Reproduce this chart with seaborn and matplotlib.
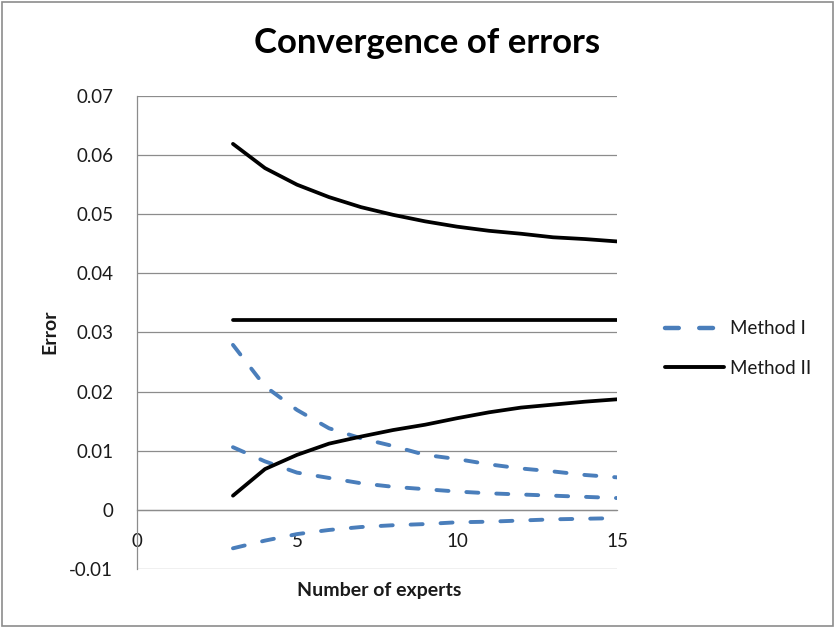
import matplotlib
matplotlib.use("Agg")
import matplotlib.pyplot as plt
import matplotlib.colors as mcolors
import seaborn as sns
import pandas as pd
from matplotlib.lines import Line2D
from matplotlib.patches import Rectangle

# Number of experts
experts = list(range(3, 16))

# Method I: three dashed curves
m1_upper = [0.0279, 0.0209, 0.0169, 0.0138, 0.0121, 0.0108, 0.0093, 0.0086,
            0.0077, 0.0070, 0.0065, 0.0059, 0.0055]
m1_middle = [0.0106, 0.0082, 0.0063, 0.0054, 0.0045, 0.0039, 0.0035, 0.0031,
             0.0028, 0.0026, 0.0024, 0.0022, 0.0020]
m1_lower = [-0.0065, -0.0052, -0.0041, -0.0034, -0.0029, -0.0026, -0.0024,
            -0.0021, -0.0020, -0.0018, -0.0016, -0.0015, -0.0014]

# Method II: three solid curves
m2_upper = [0.0619, 0.0578, 0.0550, 0.0529, 0.0512, 0.0499, 0.0488, 0.0479,
            0.0472, 0.0467, 0.0461, 0.0458, 0.0454]
m2_middle = [0.0321] * 13
m2_lower = [0.0024, 0.0069, 0.0093, 0.0112, 0.0124, 0.0135, 0.0144, 0.0155,
            0.0165, 0.0173, 0.0178, 0.0183, 0.0187]

methods = ["Method I", "Method II"]
x_ticks = [0, 5, 10, 15]
y_ticks = [-0.01, 0, 0.01, 0.02, 0.03, 0.04, 0.05, 0.06, 0.07]
y_tick_labels = ["-0.01", "0", "0.01", "0.02", "0.03", "0.04", "0.05", "0.06", "0.07"]

rows = []
for method, curves in ((methods[0], [m1_upper, m1_middle, m1_lower]),
                       (methods[1], [m2_upper, m2_middle, m2_lower])):
    for k, vals in enumerate(curves):
        for x, v in zip(experts, vals):
            rows.append({"experts": x, "error": v, "method": method,
                         "curve": f"{method}-{k}"})
df = pd.DataFrame(rows)

sns.set_theme(style="white")
plt.rcParams["font.family"] = ["Lato", "DejaVu Sans"]

blue = "#4A7EBB"
grid_gray = "#8c8c8c"
text_col = "#1a1a1a"
dash_pattern = (3.1, 4.6)
palette = {methods[0]: blue, methods[1]: "black"}
widths = {methods[0]: 2.8, methods[1]: 2.7}

fig = plt.figure(figsize=(8.35, 6.29), dpi=100)
ax = fig.add_axes([0.164, 0.0954, 0.575, 0.752])

for method in methods:
    sub = df[df["method"] == method]
    sns.lineplot(data=sub, x="experts", y="error", units="curve", estimator=None,
                 color=palette[method], lw=widths[method], ax=ax, legend=False,
                 solid_capstyle="round", dash_capstyle="round")

# dashed pattern for the Method I curves
for ln in ax.get_lines():
    if mcolors.to_hex(ln.get_color()).lower() == blue.lower():
        ln.set_dashes(dash_pattern)
        ln.set_dash_capstyle("round")

ax.set_xlim(0, 15)
ax.set_ylim(-0.01, 0.07)
ax.set_xticks(x_ticks)
ax.set_xticklabels([str(t) for t in x_ticks])
ax.set_yticks(y_ticks)
ax.set_yticklabels(y_tick_labels)

ax.grid(axis="y", color=grid_gray, lw=0.9)
ax.grid(axis="x", visible=False)
ax.set_axisbelow(True)

for s in ("top", "right"):
    ax.spines[s].set_visible(False)
ax.spines["bottom"].set_position(("data", 0))
for s in ("bottom", "left"):
    ax.spines[s].set_color(grid_gray)
    ax.spines[s].set_linewidth(0.9)

ax.tick_params(axis="both", which="both", direction="out", length=6.5, width=0.9,
               color=grid_gray, labelsize=13.5, labelcolor=text_col)
ax.tick_params(axis="y", pad=10.5)
ax.tick_params(axis="x", pad=10.5)

ax.set_xlabel("")
ax.set_ylabel("")
fig.text(0.454, 0.062, "Number of experts", ha="center", va="center",
         fontsize=14, fontweight="bold", color=text_col)
fig.text(0.060, 0.473, "Error", ha="center", va="center", rotation=90,
         fontsize=14, fontweight="bold", color=text_col)
fig.text(0.511, 0.916, "Convergence of errors", ha="center", va="baseline",
         fontsize=25, fontweight="bold", color="black")

handles = [
    Line2D([0], [0], color=blue, lw=3.2, dashes=dash_pattern, dash_capstyle="round"),
    Line2D([0], [0], color="black", lw=2.8),
]
fig.legend(handles, methods, loc="center left", bbox_to_anchor=(0.776, 0.446),
           frameon=False, fontsize=13.5, handlelength=3.15, labelspacing=1.2,
           handletextpad=0.35, labelcolor=text_col)

fig.patches.append(Rectangle((0.002, 0.004), 0.996, 0.993, transform=fig.transFigure,
                             fill=False, edgecolor=grid_gray, lw=1.2))

fig.savefig("out.png", dpi=100, facecolor="white")
